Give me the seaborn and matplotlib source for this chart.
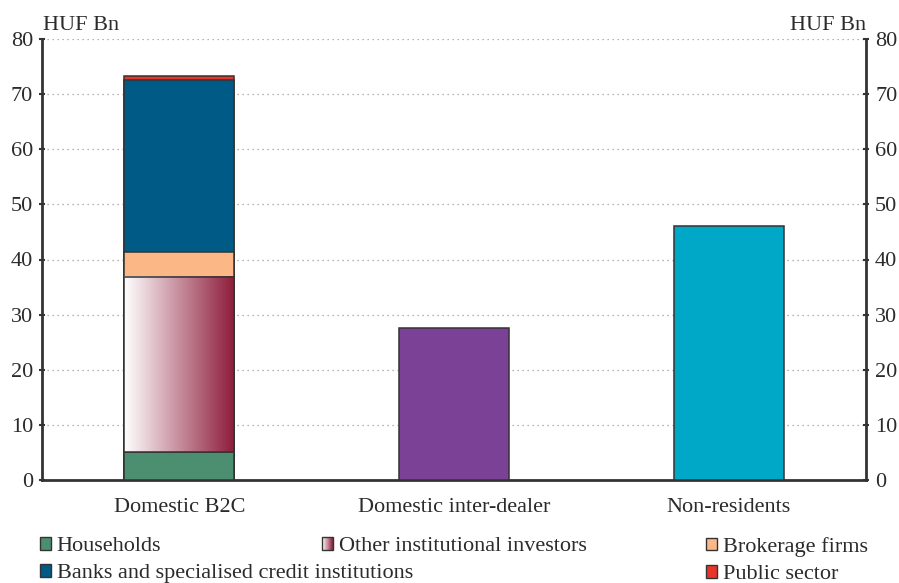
import numpy as np
import pandas as pd
import matplotlib
matplotlib.use("Agg")
import matplotlib.pyplot as plt
import seaborn as sns
from matplotlib.patches import Rectangle
from matplotlib.legend_handler import HandlerBase
from matplotlib.colors import LinearSegmentedColormap

# data (HUF Bn)
categories = ["Domestic B2C", "Domestic inter-dealer", "Non-residents"]
b2c_segments = ["Households", "Other institutional investors", "Brokerage firms",
                "Banks and specialised credit institutions", "Public sector"]
b2c_values = [5.0, 31.8, 4.6, 31.2, 0.7]
single_cats = ["Domestic inter-dealer", "Non-residents"]
single_values = [27.6, 46.0]
y_ticks = [0, 10, 20, 30, 40, 50, 60, 70, 80]

seg_colors = {
    "Households": "#4b8f70",
    "Other institutional investors": "#8e1e3c",
    "Brokerage firms": "#fbb886",
    "Banks and specialised credit institutions": "#005a86",
    "Public sector": "#e8352a",
}
single_colors = {"Domestic inter-dealer": "#7b4196", "Non-residents": "#00a8c8"}
grad_cmap = LinearSegmentedColormap.from_list("oii", ["#ffffff", "#8e1e3c"])

sns.set_style("white")
plt.rcParams["font.family"] = ["Liberation Serif", "DejaVu Serif"]
text_col = "#2b2b2b"
edge_col = "#333333"
fs = 16

fig = plt.figure(figsize=(8.99, 5.83), dpi=100)
ax = fig.add_axes([42 / 899, 1 - 480 / 583, (866 - 42) / 899, (480 - 39) / 583])

# stacked bar: draw cumulative totals, tallest first
cum = np.cumsum(b2c_values)
for seg, top in reversed(list(zip(b2c_segments, cum))):
    sns.barplot(x=[categories[0]], y=[top], order=categories, color=seg_colors[seg],
                width=0.4, edgecolor=edge_col, linewidth=1.1, saturation=1, ax=ax, zorder=3)

sns.barplot(x=single_cats, y=single_values, hue=single_cats, order=categories,
            palette=single_colors, width=0.4, edgecolor=edge_col, linewidth=1.1,
            saturation=1, legend=False, ax=ax, zorder=3)

# gradient fill for the "other institutional investors" segment
bar0 = ax.patches[0]
x0 = bar0.get_x()
w0 = bar0.get_width()
lo, hi = cum[0], cum[1]
grad = np.linspace(0, 1, 256).reshape(1, -1)
ax.imshow(grad, cmap=grad_cmap, aspect="auto", extent=[x0, x0 + w0, lo, hi],
          zorder=3.5, interpolation="bicubic")
ax.add_patch(Rectangle((x0, lo), w0, hi - lo, fill=False, edgecolor=edge_col,
                       linewidth=1.1, zorder=4))

ax.set_xlim(-0.5, 2.5)
ax.set_ylim(0, 80)
ax.set_yticks(y_ticks)
ax.set_xlabel("")
ax.set_ylabel("")
ax.grid(False)
for y in y_ticks[1:]:
    ax.axhline(y, color="#9a9a9a", lw=0.9, ls=(0, (1, 3)), zorder=1)

for side in ["left", "right", "bottom"]:
    ax.spines[side].set_visible(True)
    ax.spines[side].set_color(edge_col)
    ax.spines[side].set_linewidth(2)
ax.spines["top"].set_visible(False)

ax.set_xticks([-0.5, 0.5, 1.5, 2.5], minor=True)
ax.tick_params(axis="x", which="major", length=0, pad=13, labelsize=fs, labelcolor=text_col)
ax.tick_params(axis="x", which="minor", length=6, width=1.5, direction="out", color=edge_col)
ax.tick_params(axis="y", length=5, width=1.5, direction="inout", color=edge_col,
               labelsize=fs, labelcolor=text_col, pad=4)

ax2 = ax.twinx()
ax2.set_ylim(ax.get_ylim())
ax2.set_yticks(y_ticks)
ax2.tick_params(axis="y", length=5, width=1.5, direction="inout", color=edge_col,
                labelsize=fs, labelcolor=text_col, pad=4)
for s in ax2.spines.values():
    s.set_visible(False)

fig.text(43 / 899, 1 - 30 / 583, "HUF Bn", fontsize=fs, color=text_col, va="baseline")
fig.text(866 / 899, 1 - 30 / 583, "HUF Bn", fontsize=fs, color=text_col, va="baseline", ha="right")


class GradientHandler(HandlerBase):
    def create_artists(self, legend, orig_handle, xdescent, ydescent, width, height,
                       fontsize, trans):
        arts = []
        n = 20
        for i in range(n):
            r = Rectangle((-xdescent + width * i / n, -ydescent), width / n + 0.2, height,
                          facecolor=grad_cmap(i / (n - 1)), edgecolor="none", transform=trans)
            arts.append(r)
        arts.append(Rectangle((-xdescent, -ydescent), width, height, fill=False,
                              edgecolor=edge_col, lw=1, transform=trans))
        return arts


def sq(c):
    return Rectangle((0, 0), 1, 1, facecolor=c, edgecolor=edge_col, lw=1)


leg_kw = dict(frameon=False, fontsize=fs, handlelength=0.5, handleheight=0.5,
              handletextpad=0.25, labelspacing=0.36, borderpad=0, borderaxespad=0,
              loc="upper left", labelcolor=text_col)

fig.legend([sq(seg_colors["Households"]), sq(seg_colors["Banks and specialised credit institutions"])],
           ["Households", "Banks and specialised credit institutions"],
           bbox_to_anchor=(40 / 899, 1 - 537 / 583), **leg_kw)
grad_handle = Rectangle((0, 0), 1, 1)
fig.legend([grad_handle], ["Other institutional investors"],
           handler_map={Rectangle: GradientHandler()},
           bbox_to_anchor=(322 / 899, 1 - 537 / 583), **leg_kw)
fig.legend([sq(seg_colors["Brokerage firms"]), sq(seg_colors["Public sector"])],
           ["Brokerage firms", "Public sector"],
           bbox_to_anchor=(706 / 899, 1 - 537 / 583), **leg_kw)

fig.savefig("out.png", dpi=100)
